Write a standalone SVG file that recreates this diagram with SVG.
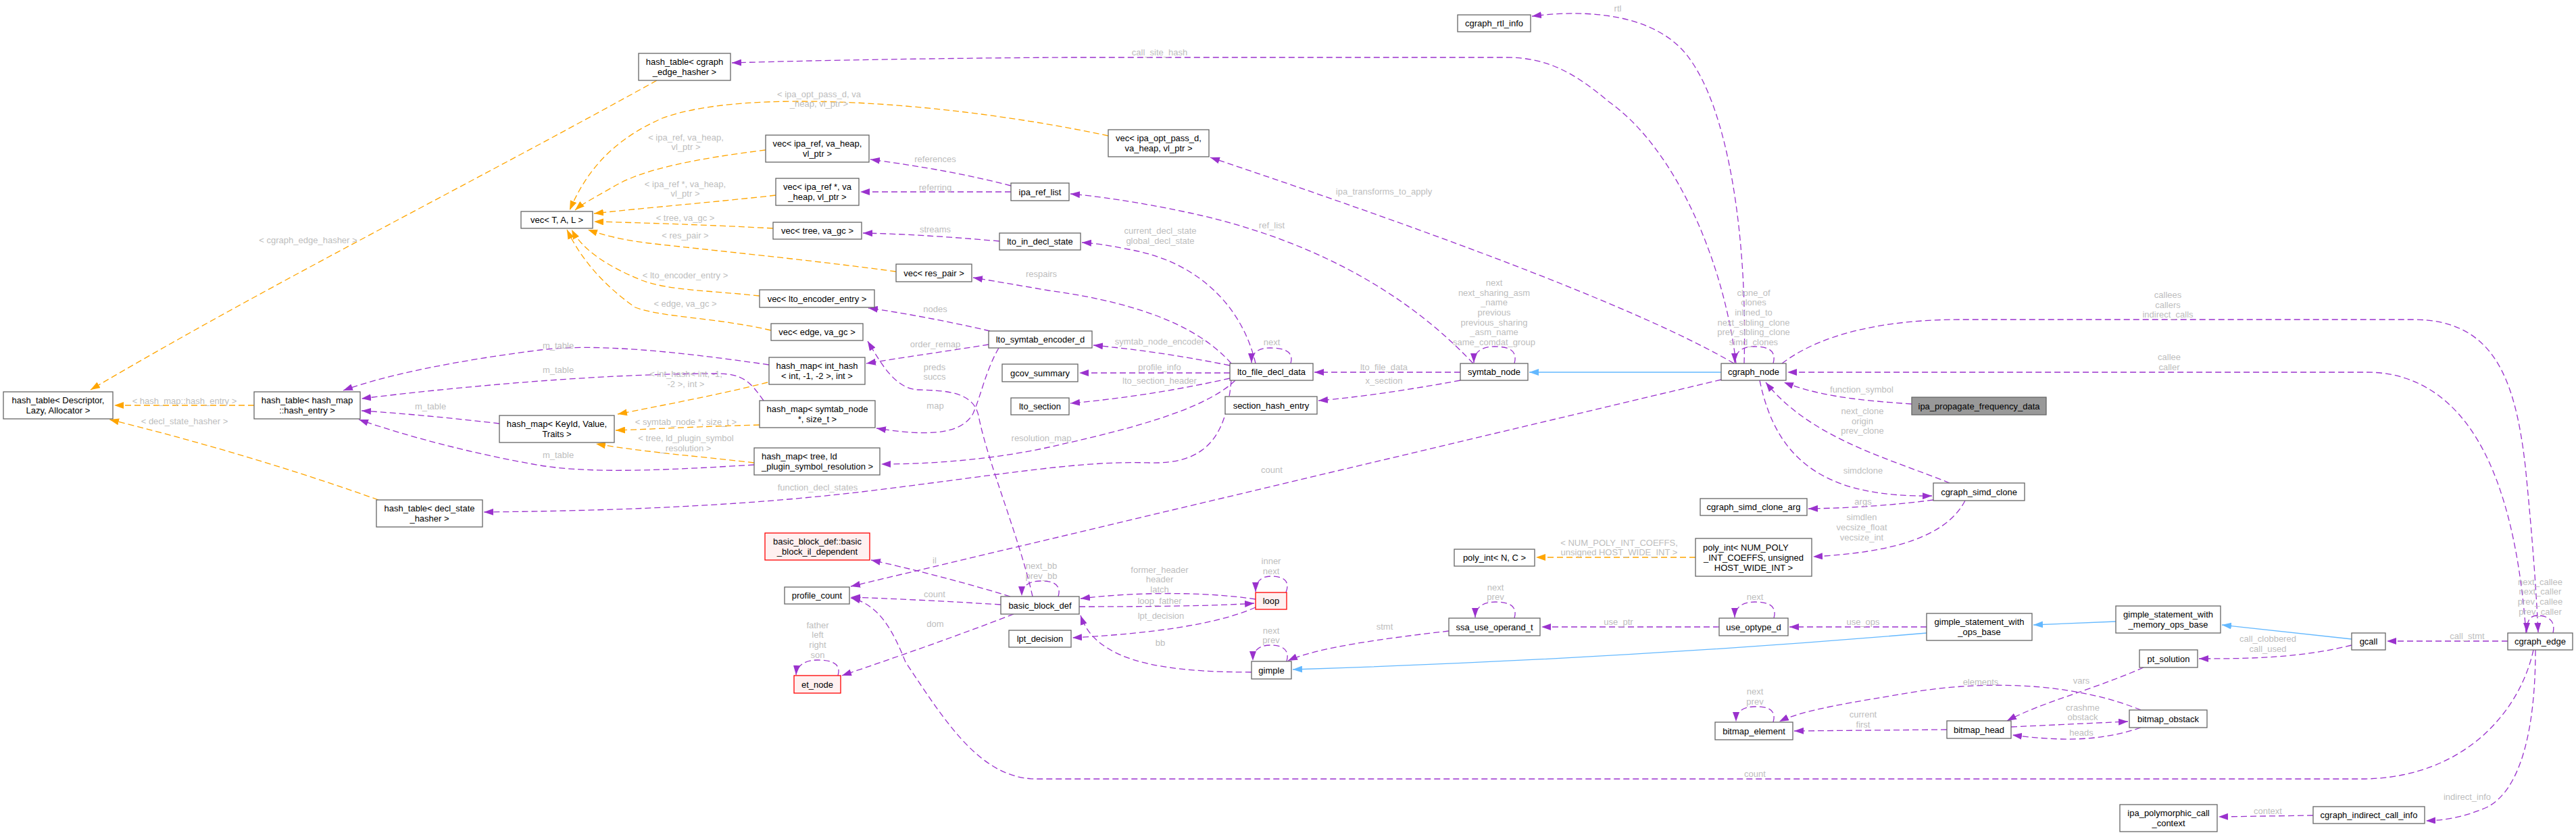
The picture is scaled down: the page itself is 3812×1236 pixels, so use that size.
<svg xmlns="http://www.w3.org/2000/svg" width="3812" height="1236" viewBox="0 0 3812 1236">
<style>
.bg{fill:#fff}
.nd rect{fill:#fff;stroke:#666;stroke-width:1.3}
.rd rect{fill:#fff0f0;stroke:#ff0000;stroke-width:1.3}
.gd rect{fill:#999;stroke:#666;stroke-width:1.3}
text{font-family:"Liberation Sans",Arial,Helvetica,sans-serif;font-size:13px}
.nd text,.rd text,.gd text{fill:#000;text-anchor:middle}
.lf{text-anchor:start!important}
.e{fill:none;stroke-width:1.3;stroke-dasharray:9,5}
.u{stroke:#9a32cd;marker-end:url(#mu)}
.o{stroke:#ffa500;marker-end:url(#mo)}
.b{stroke:#63b8ff;stroke-dasharray:none;marker-end:url(#mb)}
.lb{fill:#bdbdbd;text-anchor:middle}
</style>
<defs>
<marker id="mu" viewBox="0 0 14 10" refX="14" refY="5" markerWidth="14" markerHeight="10" markerUnits="userSpaceOnUse" orient="auto"><path d="M0,0 L14,5 L0,10 z" fill="#9a32cd"/></marker>
<marker id="mo" viewBox="0 0 14 10" refX="14" refY="5" markerWidth="14" markerHeight="10" markerUnits="userSpaceOnUse" orient="auto"><path d="M0,0 L14,5 L0,10 z" fill="#ffa500"/></marker>
<marker id="mb" viewBox="0 0 14 10" refX="14" refY="5" markerWidth="14" markerHeight="10" markerUnits="userSpaceOnUse" orient="auto"><path d="M0,0 L14,5 L0,10 z" fill="#63b8ff"/></marker>
</defs>
<rect class="bg" x="0" y="0" width="3812" height="1236"/>
<g id="connectors">
<path class="e u" d="M2569,538 C2552,390 2480,220 2380,150 C2330,108 2290,85 2229,85 L1580,85 C1400,86 1220,89 1083,93"/>
<path class="e u" d="M2581,538 C2586,360 2560,160 2495,80 C2450,25 2360,12 2267,24"/>
<path class="e u" d="M2566,538 C2450,470 2200,370 1791,233"/>
<path class="e u" d="M2180,538 C2060,410 1900,345 1760,315 C1680,298 1620,290 1584,287"/>
<path class="e u" d="M2161,551 L1945,551"/>
<path class="e u" d="M2161,563 C2080,578 2010,588 1951,593"/>
<path class="e u" d="M2241,538 C2247,516 2228,513 2212,513 C2192,513 2181,521 2181,537"/>
<path class="e u" d="M2624,538 C2630,516 2612,513 2596,513 C2578,513 2567,521 2567,537"/>
<path class="e u" d="M2547,562 L1259,868"/>
<path class="e u" d="M2637,538 C2700,490 2800,473 2902,473 L3571,473 C3690,473 3722,560 3737,690 C3747,790 3753,870 3756,936"/>
<path class="e u" d="M3738,937 C3725,760 3680,600 3560,560 C3540,553 3520,551 3500,551 L2645,551"/>
<path class="e u" d="M2829,598 C2740,592 2690,585 2640,566"/>
<path class="e u" d="M2885,715 C2800,680 2680,650 2613,566"/>
<path class="e u" d="M2604,563 C2630,690 2710,736 2859,734"/>
<path class="e u" d="M2861,740 C2800,748 2740,752 2676,753"/>
<path class="e u" d="M2908,741 C2880,795 2800,818 2683,824"/>
<path class="e u" d="M3778,937 C3783,915 3765,911 3755,911 C3743,911 3739,920 3739,936"/>
<path class="e u" d="M3711,949 L3532,949"/>
<path class="e u" d="M3749,962 C3730,1050 3650,1150 3500,1153 L1530,1153 C1450,1150 1400,1070 1340,980 C1320,930 1300,895 1259,885"/>
<path class="e u" d="M3752,962 C3752,1080 3730,1170 3680,1195 C3640,1212 3615,1214 3590,1215"/>
<path class="e u" d="M3423,1207 L3283,1209"/>
<path class="e u" d="M3480,955 C3400,975 3320,975 3254,975"/>
<path class="e u" d="M3172,988 C3100,1020 3020,1040 2970,1067"/>
<path class="e u" d="M2976,1076 L3149,1068"/>
<path class="e u" d="M3168,1077 C3130,1090 3090,1095 3050,1094 C3020,1093 3000,1091 2978,1088"/>
<path class="e u" d="M3168,1051 C3080,1015 2960,1005 2840,1023 C2740,1040 2670,1050 2633,1068"/>
<path class="e u" d="M2881,1080 L2655,1082"/>
<path class="e u" d="M2624,1069 C2630,1048 2612,1046 2597,1046 C2580,1046 2569,1053 2569,1068"/>
<path class="e u" d="M2851,928 L2648,928"/>
<path class="e u" d="M2544,928 L2281,928"/>
<path class="e u" d="M2625,915 C2631,894 2612,891 2597,891 C2580,891 2567,898 2567,914"/>
<path class="e u" d="M2241,915 C2247,894 2228,891 2213,891 C2196,891 2183,898 2183,914"/>
<path class="e u" d="M2144,934 C2050,945 1950,958 1906,978"/>
<path class="e u" d="M1904,979 C1910,958 1892,955 1880,955 C1864,955 1854,962 1854,978"/>
<path class="e u" d="M1852,995 C1750,995 1680,985 1640,960 C1615,945 1605,928 1599,911"/>
<path class="e u" d="M1597,898 C1700,898 1800,897 1856,893"/>
<path class="e u" d="M1858,887 C1800,878 1700,874 1599,886"/>
<path class="e u" d="M1858,899 C1800,925 1700,938 1587,944"/>
<path class="e u" d="M1903,877 C1911,856 1893,853 1881,853 C1866,853 1858,861 1858,876"/>
<path class="e u" d="M1566,883 C1572,862 1553,860 1540,860 C1523,860 1512,867 1512,882"/>
<path class="e u" d="M1481,895 C1400,890 1320,886 1259,884"/>
<path class="e u" d="M1495,883 C1420,860 1340,840 1289,829"/>
<path class="e u" d="M1500,909 C1420,940 1320,975 1246,1000"/>
<path class="e u" d="M1240,1000 C1246,980 1226,977 1210,977 C1193,977 1179,984 1178,999"/>
<path class="e u" d="M1528,883 C1510,800 1460,680 1448,615 C1440,580 1400,578 1360,577 C1325,576 1305,540 1284,505"/>
<path class="e u" d="M1478,515 C1458,550 1452,585 1440,612 C1420,650 1350,642 1297,634"/>
<path class="e u" d="M1463,510 C1400,520 1330,530 1282,538"/>
<path class="e u" d="M1465,490 C1400,475 1330,462 1285,456"/>
<path class="e u" d="M1822,538 C1780,490 1700,450 1552,430 C1500,421 1465,415 1440,411"/>
<path class="e u" d="M1858,538 C1840,460 1780,390 1675,370 C1640,363 1620,360 1601,359"/>
<path class="e u" d="M1910,538 C1916,518 1895,515 1880,515 C1862,515 1852,522 1852,537"/>
<path class="e u" d="M1820,541 C1740,525 1680,517 1618,511"/>
<path class="e u" d="M1820,552 L1597,552"/>
<path class="e u" d="M1820,560 C1740,578 1660,590 1584,597"/>
<path class="e u" d="M1828,563 C1780,610 1650,640 1552,662 C1470,680 1380,687 1304,687"/>
<path class="e u" d="M1822,563 C1815,640 1790,688 1700,685 C1600,682 1500,700 1300,725 C1100,750 900,756 716,758"/>
<path class="e u" d="M1479,357 C1400,350 1330,346 1277,345"/>
<path class="e u" d="M1496,275 C1420,255 1340,243 1288,236"/>
<path class="e u" d="M1496,284 L1273,284"/>
<path class="e u" d="M1138,540 C1000,520 880,508 800,518 C680,533 570,555 508,578"/>
<path class="e u" d="M1130,593 C1110,565 1100,553 1060,553 C900,553 700,570 535,590"/>
<path class="e u" d="M739,627 C680,620 600,612 535,608"/>
<path class="e u" d="M1116,688 C1000,695 880,702 800,689 C700,672 600,645 531,621"/>
<path class="e o" d="M972,119 C700,270 400,420 134,577"/>
<path class="e o" d="M376,600 L169,600"/>
<path class="e o" d="M560,740 C420,690 280,650 162,621"/>
<path class="e o" d="M1640,201 C1400,150 1100,130 980,175 C900,210 865,260 843,311"/>
<path class="e o" d="M1133,222 C1030,235 950,250 905,278 C875,295 860,303 851,311"/>
<path class="e o" d="M1148,289 C1050,300 960,307 879,316"/>
<path class="e o" d="M1144,338 C1050,333 960,330 879,328"/>
<path class="e o" d="M1326,402 C1200,385 1050,370 960,360 C920,355 893,348 870,340"/>
<path class="e o" d="M1124,438 C1050,430 990,430 950,415 C900,395 862,370 846,340"/>
<path class="e o" d="M1141,489 C1060,470 980,470 940,455 C890,420 858,380 839,340"/>
<path class="e o" d="M1136,566 C1060,585 980,600 914,613"/>
<path class="e o" d="M1124,629 C1040,631 970,635 911,637"/>
<path class="e o" d="M1116,685 C1030,675 960,670 882,657"/>
<path class="e o" d="M2509,825 L2273,825"/>
<path class="e b" d="M2547,551 L2263,551"/>
<path class="e b" d="M2851,937 C2500,967 2200,982 1913,991"/>
<path class="e b" d="M3131,920 L3009,925"/>
<path class="e b" d="M3480,946 L3288,925"/>
<text class="lb" x="456" y="359.5">&lt; cgraph_edge_hasher &gt;</text>
<text class="lb" x="1716" y="81.5">call_site_hash</text>
<text class="lb" x="2394" y="16.5">rtl</text>
<text class="lb" x="1212" y="143.5">&lt; ipa_opt_pass_d, va</text>
<text class="lb" x="1212" y="157.5">_heap, vl_ptr &gt;</text>
<text class="lb" x="1015" y="207.5">&lt; ipa_ref, va_heap,</text>
<text class="lb" x="1015" y="221.5">vl_ptr &gt;</text>
<text class="lb" x="1384" y="239.5">references</text>
<text class="lb" x="1014" y="276.5">&lt; ipa_ref *, va_heap,</text>
<text class="lb" x="1014" y="290.5">vl_ptr &gt;</text>
<text class="lb" x="1384" y="281.5">referring</text>
<text class="lb" x="2048" y="287.5">ipa_transforms_to_apply</text>
<text class="lb" x="1014" y="326.5">&lt; tree, va_gc &gt;</text>
<text class="lb" x="1384" y="343.5">streams</text>
<text class="lb" x="1717" y="345.5">current_decl_state</text>
<text class="lb" x="1717" y="360.5">global_decl_state</text>
<text class="lb" x="1882" y="337.5">ref_list</text>
<text class="lb" x="1014" y="352.5">&lt; res_pair &gt;</text>
<text class="lb" x="1541" y="409.5">respairs</text>
<text class="lb" x="1014" y="411.5">&lt; lto_encoder_entry &gt;</text>
<text class="lb" x="1014" y="453.5">&lt; edge, va_gc &gt;</text>
<text class="lb" x="1384" y="461.5">nodes</text>
<text class="lb" x="1882" y="510.5">next</text>
<text class="lb" x="2211" y="422.5">next</text>
<text class="lb" x="2211" y="437.5">next_sharing_asm</text>
<text class="lb" x="2211" y="451.5">_name</text>
<text class="lb" x="2211" y="466.5">previous</text>
<text class="lb" x="2211" y="481.5">previous_sharing</text>
<text class="lb" x="2211" y="495.5">_asm_name</text>
<text class="lb" x="2211" y="510.5">same_comdat_group</text>
<text class="lb" x="2595" y="437.5">clone_of</text>
<text class="lb" x="2595" y="451.5">clones</text>
<text class="lb" x="2595" y="466.5">inlined_to</text>
<text class="lb" x="2595" y="481.5">next_sibling_clone</text>
<text class="lb" x="2595" y="495.5">prev_sibling_clone</text>
<text class="lb" x="2595" y="510.5">simd_clones</text>
<text class="lb" x="1716" y="509.5">symtab_node_encoder</text>
<text class="lb" x="1384" y="513.5">order_remap</text>
<text class="lb" x="826" y="515.5">m_table</text>
<text class="lb" x="826" y="551.5">m_table</text>
<text class="lb" x="637" y="605.5">m_table</text>
<text class="lb" x="826" y="677.5">m_table</text>
<text class="lb" x="1383" y="547.5">preds</text>
<text class="lb" x="1383" y="561.5">succs</text>
<text class="lb" x="1015" y="557.5">&lt; int_hash&lt; int, -1,</text>
<text class="lb" x="1015" y="572.5">-2 &gt;, int &gt;</text>
<text class="lb" x="1716" y="547.5">profile_info</text>
<text class="lb" x="2048" y="547.5">lto_file_data</text>
<text class="lb" x="1716" y="567.5">lto_section_header</text>
<text class="lb" x="2048" y="567.5">x_section</text>
<text class="lb" x="2755" y="580.5">function_symbol</text>
<text class="lb" x="273" y="597.5">&lt; hash_map::hash_entry &gt;</text>
<text class="lb" x="1384" y="604.5">map</text>
<text class="lb" x="2756" y="612.5">next_clone</text>
<text class="lb" x="2756" y="627.5">origin</text>
<text class="lb" x="2756" y="641.5">prev_clone</text>
<text class="lb" x="273" y="627.5">&lt; decl_state_hasher &gt;</text>
<text class="lb" x="1015" y="628.5">&lt; symtab_node *, size_t &gt;</text>
<text class="lb" x="1015" y="652.5">&lt; tree, ld_plugin_symbol</text>
<text class="lb" x="1015" y="667.5">_resolution &gt;</text>
<text class="lb" x="1541" y="652.5">resolution_map</text>
<text class="lb" x="1882" y="699.5">count</text>
<text class="lb" x="2757" y="700.5">simdclone</text>
<text class="lb" x="1210" y="725.5">function_decl_states</text>
<text class="lb" x="2757" y="746.5">args</text>
<text class="lb" x="2755" y="769.5">simdlen</text>
<text class="lb" x="2755" y="784.5">vecsize_float</text>
<text class="lb" x="2755" y="799.5">vecsize_int</text>
<text class="lb" x="2396" y="807.5">&lt; NUM_POLY_INT_COEFFS,</text>
<text class="lb" x="2396" y="821.5">unsigned HOST_WIDE_INT &gt;</text>
<text class="lb" x="1383" y="833.5">il</text>
<text class="lb" x="1541" y="841.5">next_bb</text>
<text class="lb" x="1541" y="856.5">prev_bb</text>
<text class="lb" x="1881" y="834.5">inner</text>
<text class="lb" x="1881" y="849.5">next</text>
<text class="lb" x="1716" y="847.5">former_header</text>
<text class="lb" x="1716" y="861.5">header</text>
<text class="lb" x="1716" y="876.5">latch</text>
<text class="lb" x="1716" y="893.5">loop_father</text>
<text class="lb" x="1718" y="915.5">lpt_decision</text>
<text class="lb" x="1383" y="883.5">count</text>
<text class="lb" x="1384" y="927.5">dom</text>
<text class="lb" x="1210" y="929.5">father</text>
<text class="lb" x="1210" y="943.5">left</text>
<text class="lb" x="1210" y="958.5">right</text>
<text class="lb" x="1210" y="973.5">son</text>
<text class="lb" x="1717" y="955.5">bb</text>
<text class="lb" x="1881" y="937.5">next</text>
<text class="lb" x="1881" y="951.5">prev</text>
<text class="lb" x="2213" y="873.5">next</text>
<text class="lb" x="2213" y="887.5">prev</text>
<text class="lb" x="2597" y="887.5">next</text>
<text class="lb" x="2049" y="931.5">stmt</text>
<text class="lb" x="2395" y="924.5">use_ptr</text>
<text class="lb" x="2757" y="924.5">use_ops</text>
<text class="lb" x="3759" y="865.5">next_callee</text>
<text class="lb" x="3759" y="879.5">next_caller</text>
<text class="lb" x="3759" y="894.5">prev_callee</text>
<text class="lb" x="3759" y="909.5">prev_caller</text>
<text class="lb" x="3208" y="440.5">callees</text>
<text class="lb" x="3208" y="455.5">callers</text>
<text class="lb" x="3208" y="469.5">indirect_calls</text>
<text class="lb" x="3210" y="532.5">callee</text>
<text class="lb" x="3210" y="547.5">caller</text>
<text class="lb" x="3651" y="945.5">call_stmt</text>
<text class="lb" x="3356" y="949.5">call_clobbered</text>
<text class="lb" x="3356" y="964.5">call_used</text>
<text class="lb" x="3080" y="1011.5">vars</text>
<text class="lb" x="2931" y="1013.5">elements</text>
<text class="lb" x="3082" y="1051.5">crashme</text>
<text class="lb" x="3082" y="1065.5">obstack</text>
<text class="lb" x="3080" y="1088.5">heads</text>
<text class="lb" x="2597" y="1027.5">next</text>
<text class="lb" x="2597" y="1042.5">prev</text>
<text class="lb" x="2757" y="1061.5">current</text>
<text class="lb" x="2757" y="1076.5">first</text>
<text class="lb" x="2597" y="1149.5">count</text>
<text class="lb" x="3651" y="1183.5">indirect_info</text>
<text class="lb" x="3356" y="1204.5">context</text>
</g>
<g id="n_cgraph_rtl_info" class="nd"><rect x="2157" y="22" width="108" height="25"/><text x="2211" y="39">cgraph_rtl_info</text></g>
<g id="n_ht_cgraph_edge_hasher" class="nd"><rect x="945" y="79" width="136" height="40"/><text x="1013" y="96">hash_table&lt; cgraph</text><text x="1013" y="111">_edge_hasher &gt;</text></g>
<g id="n_vec_T_A_L" class="nd"><rect x="771" y="313" width="106" height="25"/><text x="824" y="330">vec&lt; T, A, L &gt;</text></g>
<g id="n_vec_ipa_opt_pass" class="nd"><rect x="1640" y="192" width="149" height="40"/><text x="1714.5" y="209">vec&lt; ipa_opt_pass_d,</text><text x="1714.5" y="224">va_heap, vl_ptr &gt;</text></g>
<g id="n_vec_ipa_ref" class="nd"><rect x="1133" y="200" width="153" height="40"/><text x="1209.5" y="217">vec&lt; ipa_ref, va_heap,</text><text x="1209.5" y="232">vl_ptr &gt;</text></g>
<g id="n_vec_ipa_ref_ptr" class="nd"><rect x="1148" y="264" width="123" height="40"/><text x="1209.5" y="281">vec&lt; ipa_ref *, va</text><text x="1209.5" y="296">_heap, vl_ptr &gt;</text></g>
<g id="n_ipa_ref_list" class="nd"><rect x="1496" y="271" width="86" height="26"/><text x="1539" y="288.5">ipa_ref_list</text></g>
<g id="n_vec_tree" class="nd"><rect x="1144" y="329" width="131" height="25"/><text x="1209.5" y="346">vec&lt; tree, va_gc &gt;</text></g>
<g id="n_lto_in_decl_state" class="nd"><rect x="1479" y="345" width="120" height="25"/><text x="1539" y="362">lto_in_decl_state</text></g>
<g id="n_vec_res_pair" class="nd"><rect x="1326" y="391" width="112" height="26"/><text x="1382" y="408.5">vec&lt; res_pair &gt;</text></g>
<g id="n_vec_lto_encoder_entry" class="nd"><rect x="1124" y="429" width="170" height="26"/><text x="1209" y="446.5">vec&lt; lto_encoder_entry &gt;</text></g>
<g id="n_vec_edge" class="nd"><rect x="1141" y="479" width="136" height="25"/><text x="1209" y="496">vec&lt; edge, va_gc &gt;</text></g>
<g id="n_lto_symtab_encoder_d" class="nd"><rect x="1463" y="490" width="153" height="25"/><text x="1539.5" y="507">lto_symtab_encoder_d</text></g>
<g id="n_hm_int_hash" class="nd"><rect x="1138" y="529" width="142" height="40"/><text x="1209" y="546">hash_map&lt; int_hash</text><text x="1209" y="561">&lt; int, -1, -2 &gt;, int &gt;</text></g>
<g id="n_gcov_summary" class="nd"><rect x="1483" y="539" width="112" height="26"/><text x="1539" y="556.5">gcov_summary</text></g>
<g id="n_lto_file_decl_data" class="nd"><rect x="1820" y="538" width="123" height="25"/><text x="1881.5" y="555">lto_file_decl_data</text></g>
<g id="n_symtab_node" class="nd"><rect x="2161" y="538" width="100" height="25"/><text x="2211" y="555">symtab_node</text></g>
<g id="n_cgraph_node" class="nd"><rect x="2547" y="538" width="96" height="25"/><text x="2595" y="555">cgraph_node</text></g>
<g id="n_ht_descriptor" class="nd"><rect x="5" y="580" width="162" height="40"/><text x="86" y="597">hash_table&lt; Descriptor,</text><text x="86" y="612">Lazy, Allocator &gt;</text></g>
<g id="n_ht_hash_entry" class="nd"><rect x="376" y="580" width="157" height="40"/><text x="454.5" y="597">hash_table&lt; hash_map</text><text x="454.5" y="612">::hash_entry &gt;</text></g>
<g id="n_hm_keyid" class="nd"><rect x="739" y="615" width="170" height="40"/><text x="824" y="632">hash_map&lt; KeyId, Value,</text><text x="824" y="647">Traits &gt;</text></g>
<g id="n_lto_section" class="nd"><rect x="1496" y="589" width="86" height="25"/><text x="1539" y="606">lto_section</text></g>
<g id="n_section_hash_entry" class="nd"><rect x="1813" y="587" width="136" height="26"/><text x="1881" y="604.5">section_hash_entry</text></g>
<g id="n_hm_symtab_node" class="nd"><rect x="1124" y="593" width="171" height="40"/><text x="1209.5" y="610">hash_map&lt; symtab_node</text><text x="1209.5" y="625">*, size_t &gt;</text></g>
<g id="n_ipa_propagate_frequency_data" class="gd"><rect x="2829" y="588" width="199" height="26"/><text x="2928.5" y="605.5">ipa_propagate_frequency_data</text></g>
<g id="n_hm_tree_ld" class="nd"><rect x="1116" y="663" width="186" height="40"/><text class="lf" x="1127" y="680">hash_map&lt; tree, ld</text><text class="lf" x="1127" y="695">_plugin_symbol_resolution &gt;</text></g>
<g id="n_cgraph_simd_clone" class="nd"><rect x="2861" y="715" width="135" height="26"/><text x="2928.5" y="732.5">cgraph_simd_clone</text></g>
<g id="n_cgraph_simd_clone_arg" class="nd"><rect x="2516" y="738" width="158" height="25"/><text x="2595" y="755">cgraph_simd_clone_arg</text></g>
<g id="n_ht_decl_state" class="nd"><rect x="557" y="740" width="157" height="40"/><text x="635.5" y="757">hash_table&lt; decl_state</text><text x="635.5" y="772">_hasher &gt;</text></g>
<g id="n_bb_il_dependent" class="rd"><rect x="1132" y="789" width="155" height="40"/><text x="1209.5" y="806">basic_block_def::basic</text><text x="1209.5" y="821">_block_il_dependent</text></g>
<g id="n_poly_int_N_C" class="nd"><rect x="2152" y="813" width="119" height="25"/><text x="2211.5" y="830">poly_int&lt; N, C &gt;</text></g>
<g id="n_poly_int_num" class="nd"><rect x="2509" y="797" width="172" height="56"/><text class="lf" x="2520" y="814.5">poly_int&lt; NUM_POLY</text><text x="2595" y="829.5">_INT_COEFFS, unsigned</text><text x="2595" y="844.5">HOST_WIDE_INT &gt;</text></g>
<g id="n_profile_count" class="nd"><rect x="1161" y="869" width="96" height="25"/><text x="1209" y="886">profile_count</text></g>
<g id="n_basic_block_def" class="nd"><rect x="1481" y="883" width="116" height="26"/><text x="1539" y="900.5">basic_block_def</text></g>
<g id="n_loop" class="rd"><rect x="1858" y="877" width="46" height="25"/><text x="1881" y="894">loop</text></g>
<g id="n_gs_with_memory_ops_base" class="nd"><rect x="3131" y="897" width="155" height="40"/><text x="3208.5" y="914">gimple_statement_with</text><text x="3208.5" y="929">_memory_ops_base</text></g>
<g id="n_gs_with_ops_base" class="nd"><rect x="2851" y="908" width="156" height="40"/><text x="2929" y="925">gimple_statement_with</text><text x="2929" y="940">_ops_base</text></g>
<g id="n_ssa_use_operand_t" class="nd"><rect x="2144" y="915" width="135" height="26"/><text x="2211.5" y="932.5">ssa_use_operand_t</text></g>
<g id="n_use_optype_d" class="nd"><rect x="2544" y="915" width="102" height="26"/><text x="2595" y="932.5">use_optype_d</text></g>
<g id="n_lpt_decision" class="nd"><rect x="1493" y="933" width="92" height="25"/><text x="1539" y="950">lpt_decision</text></g>
<g id="n_gcall" class="nd"><rect x="3480" y="937" width="50" height="25"/><text x="3505" y="954">gcall</text></g>
<g id="n_cgraph_edge" class="nd"><rect x="3711" y="937" width="96" height="25"/><text x="3759" y="954">cgraph_edge</text></g>
<g id="n_pt_solution" class="nd"><rect x="3166" y="962" width="86" height="26"/><text x="3209" y="979.5">pt_solution</text></g>
<g id="n_gimple" class="nd"><rect x="1852" y="979" width="59" height="26"/><text x="1881.5" y="996.5">gimple</text></g>
<g id="n_et_node" class="rd"><rect x="1175" y="1000" width="69" height="26"/><text x="1209.5" y="1017.5">et_node</text></g>
<g id="n_bitmap_obstack" class="nd"><rect x="3151" y="1051" width="115" height="26"/><text x="3208.5" y="1068.5">bitmap_obstack</text></g>
<g id="n_bitmap_head" class="nd"><rect x="2881" y="1067" width="95" height="26"/><text x="2928.5" y="1084.5">bitmap_head</text></g>
<g id="n_bitmap_element" class="nd"><rect x="2538" y="1069" width="115" height="26"/><text x="2595.5" y="1086.5">bitmap_element</text></g>
<g id="n_ipa_polymorphic_call_context" class="nd"><rect x="3137" y="1191" width="144" height="40"/><text x="3209" y="1208">ipa_polymorphic_call</text><text x="3209" y="1223">_context</text></g>
<g id="n_cgraph_indirect_call_info" class="nd"><rect x="3423" y="1194" width="165" height="25"/><text x="3505.5" y="1211">cgraph_indirect_call_info</text></g>
</svg>
